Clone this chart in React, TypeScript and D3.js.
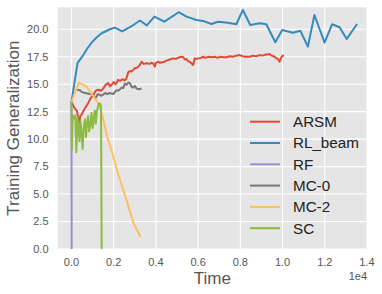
import React, { useEffect, useRef } from 'react';
import * as d3 from 'd3';

// [time, generalization] pairs
const arsm: [number, number][] = [
  [0, 13.4], [120, 12.9], [250, 12.6], [370, 11.5], [420, 12.1], [500, 12.3], [600, 12.7],
  [700, 13.0], [800, 13.3], [900, 13.7], [1030, 14.0], [1150, 14.4], [1270, 14.5], [1400, 14.4],
  [1500, 14.6], [1600, 14.9], [1740, 15.1], [1830, 14.8], [1900, 14.95], [2000, 15.2],
  [2100, 15.0], [2210, 15.4], [2300, 15.3], [2420, 15.45], [2530, 15.35], [2600, 15.5],
  [2690, 16.1], [2780, 16.2], [2850, 16.15], [3000, 16.45], [3100, 16.5], [3240, 16.75],
  [3320, 17.05], [3420, 16.85], [3560, 16.9], [3700, 16.85], [3790, 16.95], [3870, 16.9],
  [3950, 16.6], [4000, 16.95], [4100, 17.05], [4190, 16.95], [4300, 17.0], [4420, 17.05],
  [4500, 17.15], [4660, 17.25], [4810, 17.35], [4950, 17.3], [5100, 17.45], [5210, 17.5],
  [5300, 17.45], [5370, 17.25], [5450, 17.3], [5520, 17.1], [5600, 17.05], [5680, 16.9],
  [5760, 16.75], [5840, 17.35], [5920, 17.3], [6030, 17.35], [6150, 17.4], [6240, 17.5],
  [6350, 17.4], [6500, 17.5], [6650, 17.45], [6790, 17.5], [6900, 17.4], [7050, 17.5],
  [7200, 17.45], [7340, 17.45], [7500, 17.55], [7650, 17.5], [7800, 17.6], [7970, 17.65],
  [8100, 17.55], [8250, 17.5], [8440, 17.5], [8600, 17.6], [8750, 17.55], [8910, 17.65],
  [9050, 17.6], [9200, 17.7], [9300, 17.7], [9390, 17.75], [9470, 17.6], [9540, 17.57],
  [9620, 17.5], [9700, 17.36], [9780, 17.3], [9860, 17.05], [9940, 17.45], [10050, 17.66],
];

const rlBeam: [number, number][] = [
  [0, 13.4], [290, 16.95], [560, 17.65], [750, 18.25], [955, 18.78], [1190, 19.25],
  [1430, 19.64], [1820, 20.0], [2060, 20.15], [2400, 19.8], [2850, 20.28], [3240, 20.8],
  [3570, 20.35], [3930, 21.15], [4400, 20.69], [5080, 21.55], [5450, 21.15], [5920, 20.85],
  [6230, 20.76], [6630, 20.48], [6940, 20.69], [7410, 20.6], [7810, 20.46], [8120, 21.76],
  [8470, 20.39], [8910, 20.55], [9230, 20.46], [9655, 18.82], [9986, 19.94], [10490, 19.69],
  [10840, 19.87], [11200, 18.42], [11510, 21.3], [11990, 18.78], [12350, 20.46],
  [12700, 20.18], [13040, 19.12], [13530, 20.48],
];

const rf: [number, number][] = [[0, 13.4], [10, 0]];

const mc0: [number, number][] = [
  [270, 14.5], [400, 14.45], [480, 14.3], [560, 14.25], [650, 14.2], [760, 14.15], [860, 14.1],
  [950, 14.1], [1030, 14.0], [1110, 13.75], [1160, 13.8], [1250, 14.1], [1320, 14.05],
  [1400, 13.95], [1500, 14.05], [1600, 14.2], [1700, 14.1], [1800, 14.2], [1900, 14.15],
  [1980, 14.1], [2060, 14.3], [2140, 14.45], [2210, 14.4], [2300, 14.55], [2380, 14.7],
  [2450, 14.65], [2530, 15.05], [2610, 14.95], [2700, 15.15], [2770, 15.1], [2850, 14.75],
  [2920, 14.7], [3000, 14.85], [3080, 14.6], [3200, 14.55], [3320, 14.6],
];

const mc2: [number, number][] = [
  [0, 13.4], [350, 15.15], [700, 14.8], [1000, 14.0], [1250, 13.3], [1450, 12.2], [1700, 10.2],
  [2000, 8.3], [2200, 6.9], [2600, 4.5], [2950, 2.3], [3280, 1.1],
];

const sc: [number, number][] = [
  [0, 13.4], [20, 9.0], [60, 12.1], [90, 12.1], [130, 11.9], [180, 12.15], [230, 8.8],
  [290, 12.0], [330, 11.2], [380, 9.8], [430, 11.6], [480, 10.5], [530, 9.1], [580, 11.0],
  [640, 11.8], [690, 10.2], [740, 11.5], [790, 12.1], [840, 10.7], [900, 11.4], [950, 12.4],
  [1000, 11.0], [1050, 11.8], [1100, 12.6], [1150, 11.4], [1200, 12.5], [1250, 12.9],
  [1300, 13.2], [1350, 13.25], [1400, 13.0], [1430, 0],
];

const seriesNames = ['ARSM', 'RL_beam', 'RF', 'MC-0', 'MC-2', 'SC'];
const seriesData = [arsm, rlBeam, rf, mc0, mc2, sc];
const colors = ['#E24A33', '#348ABD', '#988ED5', '#777777', '#FBC15E', '#8EBA42'];

const xTicks = [0, 2000, 4000, 6000, 8000, 10000, 12000, 14000];
const yTicks = [0, 2.5, 5, 7.5, 10, 12.5, 15, 17.5, 20];

export default function App() {
  const ref = useRef<SVGSVGElement>(null);

  useEffect(() => {
    const svg = d3.select(ref.current);
    svg.selectAll('*').remove();
    const left = 57.7;
    const right = 367;
    const top = 7.3;
    const bottom = 249;

    const x = d3.scaleLinear().domain([-652, 14000]).range([left, right]);
    const y = d3.scaleLinear().domain([0, 22]).range([bottom, top]);
    const font = '"Liberation Sans", Arial, sans-serif';

    svg
      .append('rect')
      .attr('x', left)
      .attr('y', top)
      .attr('width', right - left)
      .attr('height', bottom - top)
      .attr('fill', '#E5E5E5');

    // grid
    svg
      .selectAll('.vgrid')
      .data(xTicks)
      .enter()
      .append('line')
      .attr('x1', d => x(d))
      .attr('x2', d => x(d))
      .attr('y1', top)
      .attr('y2', bottom)
      .attr('stroke', '#fff')
      .attr('stroke-width', 1.1);
    svg
      .selectAll('.hgrid')
      .data(yTicks)
      .enter()
      .append('line')
      .attr('x1', left)
      .attr('x2', right)
      .attr('y1', d => y(d))
      .attr('y2', d => y(d))
      .attr('stroke', '#fff')
      .attr('stroke-width', 1.1);

    // tick labels
    svg
      .selectAll('.xlab')
      .data(xTicks)
      .enter()
      .append('text')
      .attr('x', d => x(d))
      .attr('y', 266)
      .attr('text-anchor', 'middle')
      .style('font-family', font)
      .style('font-size', '11px')
      .style('fill', '#555')
      .text(d => (d / 10000).toFixed(1));
    svg
      .selectAll('.ylab')
      .data(yTicks)
      .enter()
      .append('text')
      .attr('x', 48.5)
      .attr('y', d => y(d))
      .attr('dy', '0.35em')
      .attr('text-anchor', 'end')
      .style('font-family', font)
      .style('font-size', '11px')
      .style('fill', '#555')
      .text(d => d.toFixed(1));

    svg
      .append('text')
      .attr('x', right)
      .attr('y', 280)
      .attr('text-anchor', 'end')
      .style('font-family', font)
      .style('font-size', '11px')
      .style('fill', '#555')
      .text('1e4');

    svg
      .append('text')
      .attr('x', (left + right) / 2)
      .attr('y', 284)
      .attr('text-anchor', 'middle')
      .style('font-family', font)
      .style('font-size', '17px')
      .style('fill', '#555')
      .text('Time');
    svg
      .append('text')
      .attr('transform', `translate(18.5, ${(top + bottom) / 2}) rotate(-90)`)
      .attr('text-anchor', 'middle')
      .style('font-family', font)
      .style('font-size', '17px')
      .style('fill', '#555')
      .text('Training Generalization');

    // lines
    const line = d3
      .line<[number, number]>()
      .x(d => x(d[0]))
      .y(d => y(d[1]));

    const lines = svg.append('g');
    seriesData.forEach((s, i) => {
      lines
        .append('path')
        .attr('d', line(s))
        .attr('fill', 'none')
        .attr('stroke', colors[i])
        .attr('stroke-width', 2)
        .attr('stroke-linejoin', 'round');
    });

    // legend
    const legend = svg.append('g');
    seriesNames.forEach((name, i) => {
      const ly = 121.7 + i * 21.3;
      legend
        .append('line')
        .attr('x1', 250)
        .attr('x2', 280)
        .attr('y1', ly)
        .attr('y2', ly)
        .attr('stroke', colors[i])
        .attr('stroke-width', 2);
      legend
        .append('text')
        .attr('x', 293)
        .attr('y', ly)
        .attr('dy', '0.35em')
        .style('font-family', font)
        .style('font-size', '15.2px')
        .style('fill', '#222')
        .text(name);
    });
  }, []);

  return (
    <svg
      ref={ref}
      width={382}
      height={294}
      style={{ position: 'absolute', left: 0, top: 0, background: '#fff' }}
    />
  );
}
